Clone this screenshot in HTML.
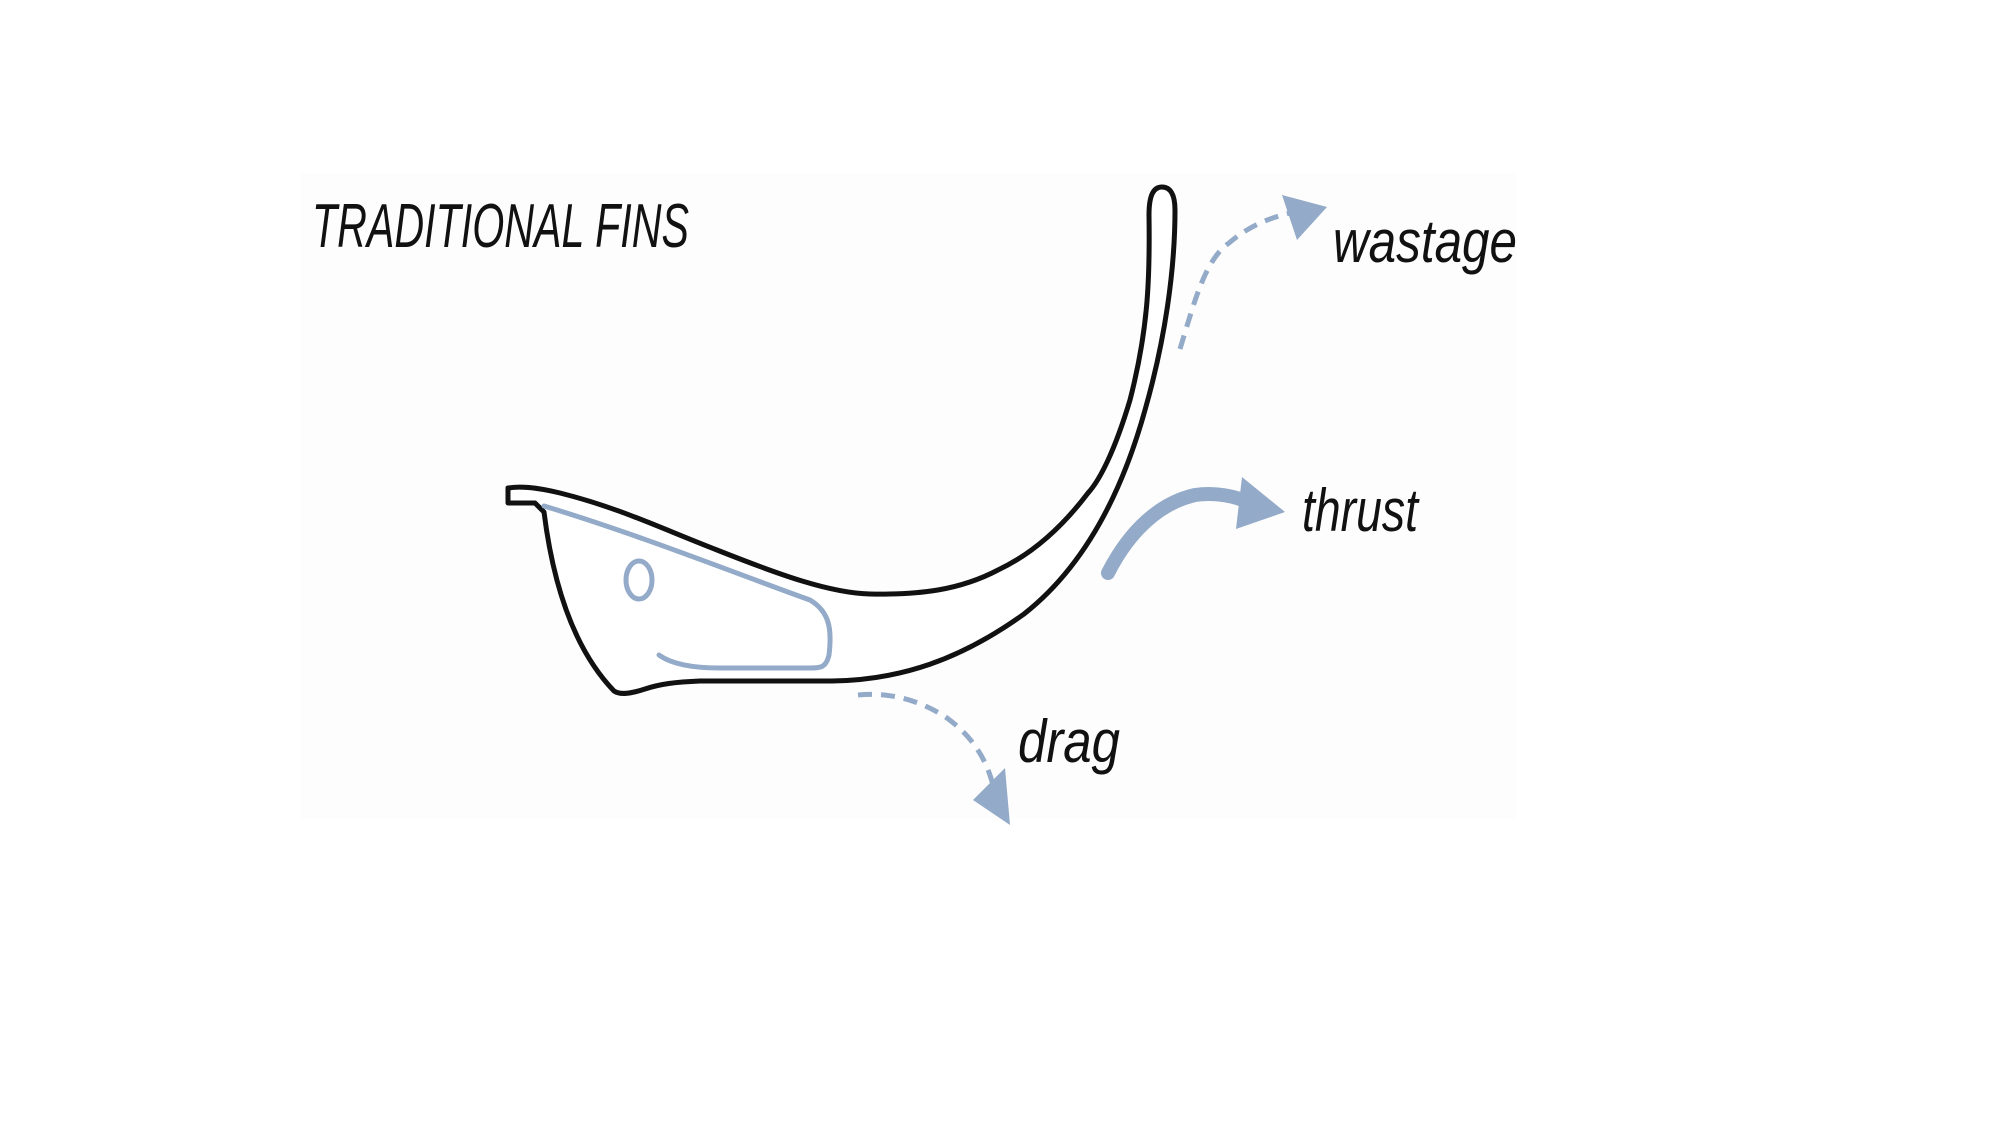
<!DOCTYPE html>
<html><head><meta charset="utf-8"><style>
html,body{margin:0;padding:0;background:#fff;width:2000px;height:1125px;overflow:hidden}
svg{display:block}
text{font-family:"Liberation Sans",sans-serif;font-style:italic;fill:#111}
</style></head><body>
<svg width="2000" height="1125" viewBox="0 0 2000 1125" xmlns="http://www.w3.org/2000/svg">
<rect x="301" y="173" width="1216" height="646" fill="#fdfdfd"/>
<text x="312" y="247" font-size="62" textLength="377" lengthAdjust="spacingAndGlyphs">TRADITIONAL FINS</text>
<text x="1333" y="262" font-size="60" textLength="184" lengthAdjust="spacingAndGlyphs">wastage</text>
<text x="1302" y="531" font-size="60" textLength="116" lengthAdjust="spacingAndGlyphs">thrust</text>
<text x="1018" y="762" font-size="60" textLength="102" lengthAdjust="spacingAndGlyphs">drag</text>
<!-- fin outline -->
<path d="M508,488 L508,503 L535,503 L544,512 C550,560 565,640 614,691 C620,695 630,694 645,689 C660,684 675,682 700,681 L832,681 C900,680 960,660 1024,614 C1080,570 1120,500 1145,410 C1165,340 1175,270 1175,210 C1175,194 1170,187 1162,187 C1154,187 1149,194 1149,215 C1150,280 1148,330 1130,400 C1115,450 1100,480 1088,493 C1060,530 1030,555 998,570 C960,590 920,595 870,594 C830,593 780,575 717,550 C660,528 620,508 560,493 C535,487 520,486 508,488 Z" fill="#fff" stroke="#111" stroke-width="5" stroke-linejoin="round"/>
<!-- blue inner -->
<path d="M544,506 C640,535 740,575 810,600 C830,612 832,630 829,655 C826,668 820,668 810,668 L720,668 C690,668 670,663 659,655" fill="none" stroke="#93aac8" stroke-width="5" stroke-linecap="round"/>
<ellipse cx="639" cy="580" rx="13" ry="19" fill="none" stroke="#93aac8" stroke-width="5"/>
<!-- wastage -->
<path d="M1180,349 C1195,300 1205,260 1229,243 C1250,225 1270,218 1290,213" fill="none" stroke="#93aac8" stroke-width="5" stroke-dasharray="14,9"/>
<polygon points="1327,207 1282,195 1297,240" fill="#93aac8"/>
<!-- thrust -->
<path d="M1108,573 C1130,530 1160,503 1195,495 C1215,492 1235,496 1250,503" fill="none" stroke="#93aac8" stroke-width="14" stroke-linecap="round"/>
<polygon points="1285,512 1242,477 1236,529" fill="#93aac8"/>
<!-- drag -->
<path d="M858,695 C890,692 920,700 947,718 C970,735 985,755 993,785" fill="none" stroke="#93aac8" stroke-width="5" stroke-dasharray="14,9"/>
<polygon points="1010,825 973,800 1005,768" fill="#93aac8"/>
</svg>
</body></html>
